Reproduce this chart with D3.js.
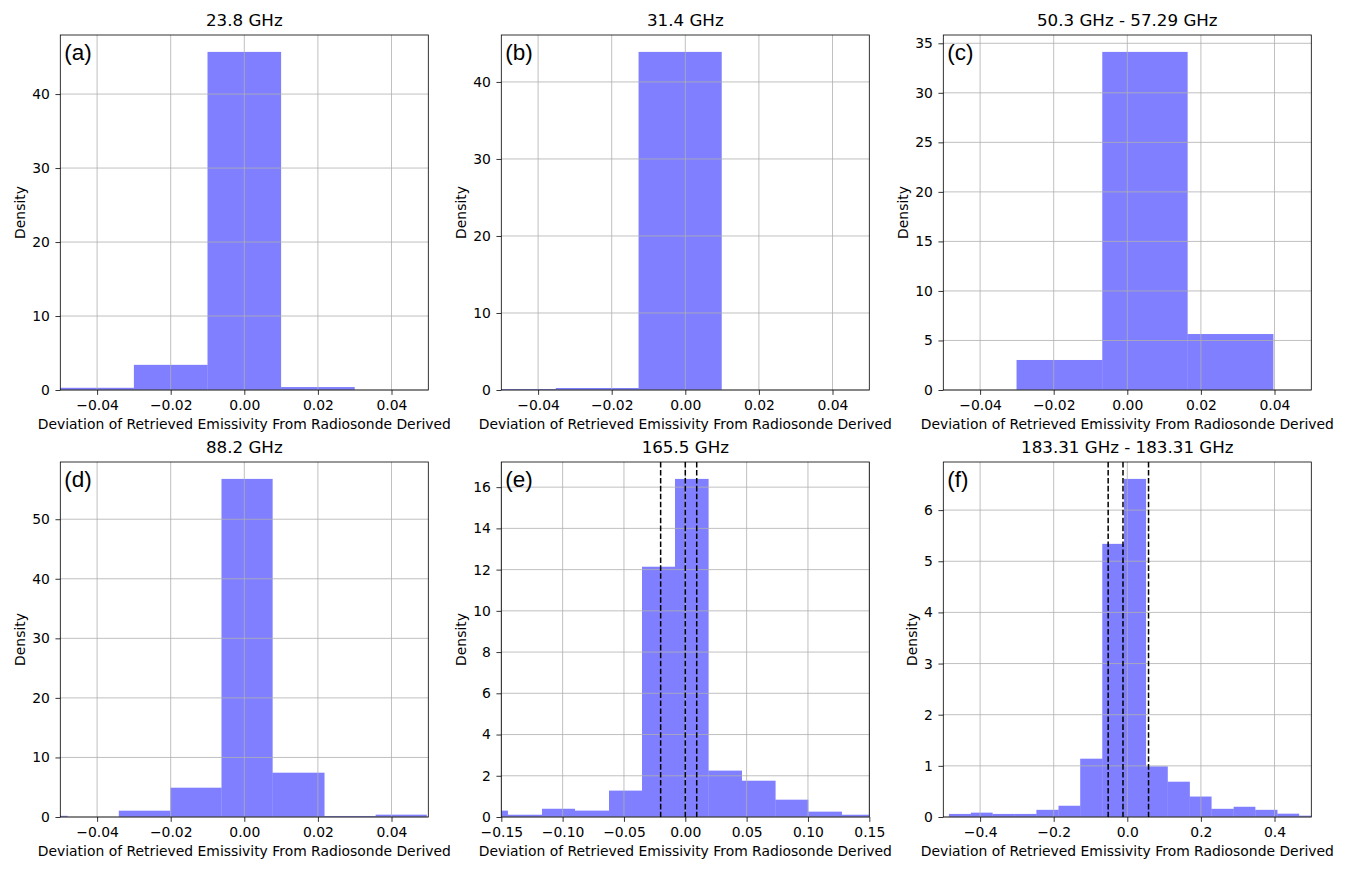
<!DOCTYPE html>
<meta charset="utf-8">
<style>
body{margin:0;background:#fff;}
svg text{font-family:"DejaVu Sans",sans-serif;fill:#000;}
.grid line{stroke:#b0b0b0;stroke-width:0.8px;}
.frame{fill:none;stroke:#000;stroke-width:0.8px;}
.bar{fill:#0000ff;fill-opacity:0.5;}
.vline{stroke:#000;stroke-width:1.5px;stroke-dasharray:5.55,2.4;}
.letter{font-family:"Liberation Sans",Arial,sans-serif;font-size:22.5px;}
</style>
<body>
<script src="https://cdn.jsdelivr.net/npm/d3@7"></script>
<script>

var titles=["23.8 GHz","31.4 GHz","50.3 GHz - 57.29 GHz","88.2 GHz","165.5 GHz","183.31 GHz - 183.31 GHz"];
var letters=["(a)","(b)","(c)","(d)","(e)","(f)"];

// histogram bin edges and densities, one pair per panel
var edgesA=[-0.05,-0.03,-0.01,0.01,0.03];
var densA=[0.3,3.4,45.7,0.4];
var edgesB=[-0.0577,-0.0352,-0.0127,0.0099];
var densB=[0.13,0.26,43.9];
var edgesC=[-0.0301,-0.0068,0.0164,0.0397];
var densC=[3.03,34.13,5.65];
var edgesD=[-0.062,-0.048,-0.0341,-0.0201,-0.0062,0.0077,0.0218,0.0357,0.0496];
var densD=[0.2,0,1.06,4.92,56.77,7.44,0.17,0.39];
var edgesE=[-0.172,-0.1446,-0.1168,-0.0899,-0.0622,-0.0353,-0.0084,0.019,0.0462,0.0736,0.1003,0.1277,0.155];
var densE=[0.31,0.11,0.40,0.31,1.28,12.14,16.40,2.25,1.76,0.84,0.26,0.11];
var edgesF=[-0.4847,-0.425,-0.366,-0.306,-0.247,-0.187,-0.128,-0.068,-0.009,0.051,0.110,0.170,0.229,0.289,0.348,0.408,0.467,0.527];
var densF=[0.06,0.085,0.06,0.06,0.14,0.22,1.14,5.34,6.61,0.99,0.69,0.40,0.16,0.20,0.14,0.065,0.026];

// dashed reference lines (panels e, f)
var linesE=[-0.0201,0.0,0.0093];
var linesF=[-0.052,-0.0117,0.0577];

// x limits and tick values
var xlimNarrow=[-0.05,0.05], xlimE=[-0.15,0.15], xlimF=[-0.5,0.5];
var xticksNarrow=[-0.04,-0.02,0,0.02,0.04];
var xticksE=[-0.15,-0.10,-0.05,0,0.05,0.10,0.15];
var xticksF=[-0.4,-0.2,0,0.2,0.4];
var yticksA=[0,10,20,30,40];
var yticksB=[0,10,20,30,40];
var yticksC=[0,5,10,15,20,25,30,35];
var yticksD=[0,10,20,30,40,50];
var yticksE=[0,2,4,6,8,10,12,14,16];
var yticksF=[0,1,2,3,4,5,6];

var xlabel="Deviation of Retrieved Emissivity From Radiosonde Derived";

var panels=[
  {edges:edgesA,dens:densA,xlim:xlimNarrow,xt:xticksNarrow,yt:yticksA,fx:".2f",lines:[]},
  {edges:edgesB,dens:densB,xlim:xlimNarrow,xt:xticksNarrow,yt:yticksB,fx:".2f",lines:[]},
  {edges:edgesC,dens:densC,xlim:xlimNarrow,xt:xticksNarrow,yt:yticksC,fx:".2f",lines:[]},
  {edges:edgesD,dens:densD,xlim:xlimNarrow,xt:xticksNarrow,yt:yticksD,fx:".2f",lines:[]},
  {edges:edgesE,dens:densE,xlim:xlimE,xt:xticksE,yt:yticksE,fx:".2f",lines:linesE},
  {edges:edgesF,dens:densF,xlim:xlimF,xt:xticksF,yt:yticksF,fx:".1f",lines:linesF}
];

var W=1345,H=873;
var colX=[60.3,501.3,943.3], rowY=[35,462];
var pw=368, ph=355;
var fs=13.9;

var svg=d3.select("body").append("svg").attr("width",W).attr("height",H);

panels.forEach(function(p,i){
  var g=svg.append("g").attr("transform","translate("+colX[i%3]+","+rowY[Math.floor(i/3)]+")");
  var x=d3.scaleLinear().domain(p.xlim).range([0,pw]);
  var ymax=d3.max(p.dens)*1.05;
  var y=d3.scaleLinear().domain([0,ymax]).range([ph,0]);

  g.append("clipPath").attr("id","clip"+i).append("rect").attr("width",pw).attr("height",ph);

  var bins=p.dens.map(function(d,k){return {x0:p.edges[k],x1:p.edges[k+1],v:d};});
  g.append("g").attr("clip-path","url(#clip"+i+")").selectAll("rect").data(bins).join("rect")
    .attr("class","bar")
    .attr("x",d=>x(d.x0)).attr("width",d=>x(d.x1)-x(d.x0))
    .attr("y",d=>y(d.v)).attr("height",d=>ph-y(d.v));

  // grid above bars, as matplotlib does
  var grid=g.append("g").attr("class","grid");
  grid.selectAll(".gx").data(p.xt).join("line").attr("class","gx")
    .attr("x1",d=>x(d)).attr("x2",d=>x(d)).attr("y1",0).attr("y2",ph);
  grid.selectAll(".gy").data(p.yt).join("line").attr("class","gy")
    .attr("x1",0).attr("x2",pw).attr("y1",d=>y(d)).attr("y2",d=>y(d));

  g.selectAll(".vline").data(p.lines).join("line").attr("class","vline")
    .attr("x1",d=>x(d)).attr("x2",d=>x(d)).attr("y1",0).attr("y2",ph);

  var xa=g.append("g").attr("transform","translate(0,"+ph+")")
    .call(d3.axisBottom(x).tickValues(p.xt).tickFormat(d3.format(p.fx)).tickSizeOuter(0).tickSize(4.86).tickPadding(5.5));
  var ya=g.append("g")
    .call(d3.axisLeft(y).tickValues(p.yt).tickFormat(d3.format("d")).tickSizeOuter(0).tickSize(4.86).tickPadding(5.5));
  [xa,ya].forEach(function(a){
    a.attr("font-family",null).attr("font-size",null);
    a.select(".domain").remove();
    a.selectAll(".tick line").attr("stroke","#000").attr("stroke-width",0.8);
    a.selectAll(".tick text").attr("fill","#000").style("font-size",fs+"px");
  });

  g.append("rect").attr("class","frame").attr("width",pw).attr("height",ph);

  var maxW=0;
  ya.selectAll(".tick text").each(function(){maxW=Math.max(maxW,this.getBBox().width);});
  var lx=-4.86-5.5-maxW-7;
  g.append("text").attr("transform","translate("+lx+","+(ph/2)+") rotate(-90)")
    .attr("text-anchor","middle").style("font-size",fs+"px").text("Density");

  g.append("text").attr("x",pw/2).attr("y",ph+39).attr("text-anchor","middle")
    .style("font-size",fs+"px").text(xlabel);

  g.append("text").attr("x",pw/2).attr("y",-9).attr("text-anchor","middle")
    .style("font-size","16.7px").text(titles[i]);

  g.append("text").attr("class","letter").attr("x",4).attr("y",24.5).text(letters[i]);
});
</script>
</body>
